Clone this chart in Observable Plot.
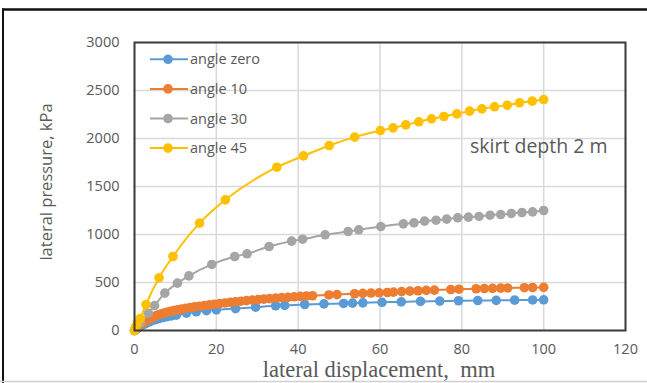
<!DOCTYPE html>
<html><head><meta charset="utf-8">
<script src="https://cdn.jsdelivr.net/npm/d3@7"></script>
<script src="https://cdn.jsdelivr.net/npm/@observablehq/plot@0.6"></script>
<style>
body{margin:0;background:#fff;}
#wrap{position:relative;width:647px;height:383px;overflow:hidden;background:#fff;}
</style></head><body><div id="wrap"></div>
<script>
const seriesNames = ["angle zero", "angle 10", "angle 30", "angle 45"];
const seriesColors = ["#5B9BD5", "#ED7D31", "#A5A5A5", "#FFC000"];

const dispZero = [0,0.5,1,1.5,2,2.5,3,3.5,4,5,6,7,8,9,10.2,12.7,15.1,17.6,20,24.7,29.6,34.5,36.7,41.6,46.3,51.1,53.3,55.8,60.5,65.2,69.9,74.6,79.2,83.9,88.4,92.9,97.3,100];
const pressZero = [0,15,30,45,58,70,80,90,98,112,124,135,144,152,160,180,195,206,215,228,243,258,261,271,277,282,285,288,294,298,303,306,310,312,314,316,318,320];

const disp10 = [0,0.5,1,1.5,2,2.5,3,3.5,4,4.5,5,5.5,6,6.7,7.4,8.1,8.9,9.7,10.5,11.5,12.5,13.6,14.7,15.9,17.1,18.3,19.5,20.8,22.1,23.4,24.7,26,27.4,28.8,30.2,31.6,33,34.5,36,37.5,39,40.5,42,43.5,47.5,49.5,53.8,55.8,57.8,59.8,61.8,63.3,65.3,67.3,69.3,71.3,73.3,77.3,79.3,83.5,85.5,87.5,89.5,91.2,95.3,97.3,100];
const press10 = [0,20,40,58,75,90,104,116,128,138,148,157,165,175,184,192,200,208,215,223,231,239,246,253,260,267,273,280,287,293,299,305,311,317,322,327,332,337,342,346,351,355,359,362,370,374,383,387,390,393,396,400,405,410,414,418,421,427,430,435,437,439,441,443,446,448,450];

const disp30 = [0,0.5,1.5,3.4,4.9,7.4,10.5,13.3,18.9,24.5,27.5,32.9,38.4,41.1,46.6,52.2,54.8,60.2,65.7,68.3,70.9,73.7,76.3,79,81.6,84.2,86.9,89.5,92.1,94.7,97.3,100];
const press30 = [0,30,80,180,260,389,493,569,688,771,799,875,931,951,997,1031,1049,1083,1111,1122,1139,1149,1160,1174,1181,1188,1201,1208,1219,1229,1236,1250];

const disp45 = [0,0.3,0.7,1.4,2.8,6,9.4,15.9,22.2,34.8,41.3,47.6,53.8,60.1,63.2,66.3,69.5,72.6,75.6,78.8,81.9,84.9,88,91.1,94.1,97.2,100];
const press45 = [0,40,80,125,271,549,771,1118,1361,1701,1819,1927,2014,2083,2111,2142,2174,2205,2229,2257,2285,2309,2330,2347,2372,2389,2406];

const xTicks = [0, 20, 40, 60, 80, 100, 120];
const yTicks = [0, 500, 1000, 1500, 2000, 2500, 3000];
const xTitle = "lateral displacement,  mm";
const yTitle = "lateral pressure, kPa";
const note = "skirt depth 2 m";

const xs = [dispZero, disp10, disp30, disp45];
const ys = [pressZero, press10, press30, press45];
const tables = seriesNames.map((s, i) => xs[i].map((d, j) => ({s, d, p: ys[i][j]})));

const W = 647, H = 383, mL = 134, mR = 22, mT = 42, mB = 53;
const txt = "#595959";
const font = "'Open Sans', sans-serif";

const seriesMarks = tables.flatMap((t, i) => [
  Plot.line(t, {x: "d", y: "p", stroke: seriesColors[i], strokeWidth: 2, curve: "monotone-x"}),
  Plot.dot(t, {x: "d", y: "p", fill: seriesColors[i], r: 4.8})
]);

const chart = Plot.plot({
  width: W, height: H,
  marginLeft: mL, marginRight: mR, marginTop: mT, marginBottom: mB,
  style: {fontFamily: font, fontSize: "14px", color: txt, background: "white", overflow: "visible"},
  x: {domain: [0, 120]},
  y: {domain: [0, 3000]},
  marks: [
    Plot.gridX(xTicks, {stroke: "#d9d9d9", strokeOpacity: 1, strokeWidth: 1.5}),
    Plot.gridY(yTicks, {stroke: "#d9d9d9", strokeOpacity: 1, strokeWidth: 1.5}),
    Plot.axisX(xTicks, {tickSize: 0, tickPadding: 13, fill: txt, label: null, fontSize: 14.5, tickFormat: d => String(d)}),
    Plot.axisY(yTicks, {tickSize: 0, tickPadding: 15, fill: txt, label: null, fontSize: 14.5, tickFormat: d => String(d)}),
    ...seriesMarks,
    Plot.frame({stroke: "#3c3c3c", strokeWidth: 2}),
    Plot.text([note], {frameAnchor: "top-right", dx: -18, dy: 97, textAnchor: "end", fill: txt, fontSize: 19.5, fontFamily: font})
  ]
});

document.getElementById("wrap").appendChild(chart);
const svg = d3.select(chart);

// legend
const lg = svg.append("g").attr("text-anchor", "start");
seriesNames.forEach((name, i) => {
  const y = 59.3 + 29.6 * i;
  lg.append("line").attr("x1", 150).attr("x2", 188).attr("y1", y).attr("y2", y)
    .attr("stroke", seriesColors[i]).attr("stroke-width", 2);
  lg.append("circle").attr("cx", 168).attr("cy", y).attr("r", 4.8).attr("fill", seriesColors[i]);
  lg.append("text").attr("x", 190).attr("y", y).attr("dy", "0.35em").attr("text-anchor", "start")
    .attr("fill", txt).attr("font-size", 14.5).attr("font-family", font).text(name);
});

// axis titles
svg.append("text").attr("transform", `translate(46,182) rotate(-90)`)
  .attr("text-anchor", "middle").attr("dy", "0.35em").attr("fill", txt)
  .attr("font-size", 16.5).attr("font-family", font).text(yTitle);
svg.append("text").attr("x", 379).attr("y", 377).attr("text-anchor", "middle")
  .attr("fill", txt).attr("font-size", 22.5).attr("font-family", "'Liberation Serif', serif")
  .style("white-space", "pre").text(xTitle);

// outer border
svg.append("line").attr("x1", 2).attr("x2", W).attr("y1", 9.5).attr("y2", 9.5).attr("stroke", "#111").attr("stroke-width", 2.5);
svg.append("line").attr("x1", 3).attr("x2", 3).attr("y1", 8.5).attr("y2", H).attr("stroke", "#111").attr("stroke-width", 2);
svg.append("line").attr("x1", 0).attr("x2", W).attr("y1", 381.5).attr("y2", 381.5).attr("stroke", "#d0d0d0").attr("stroke-width", 1.5);
</script></body></html>
